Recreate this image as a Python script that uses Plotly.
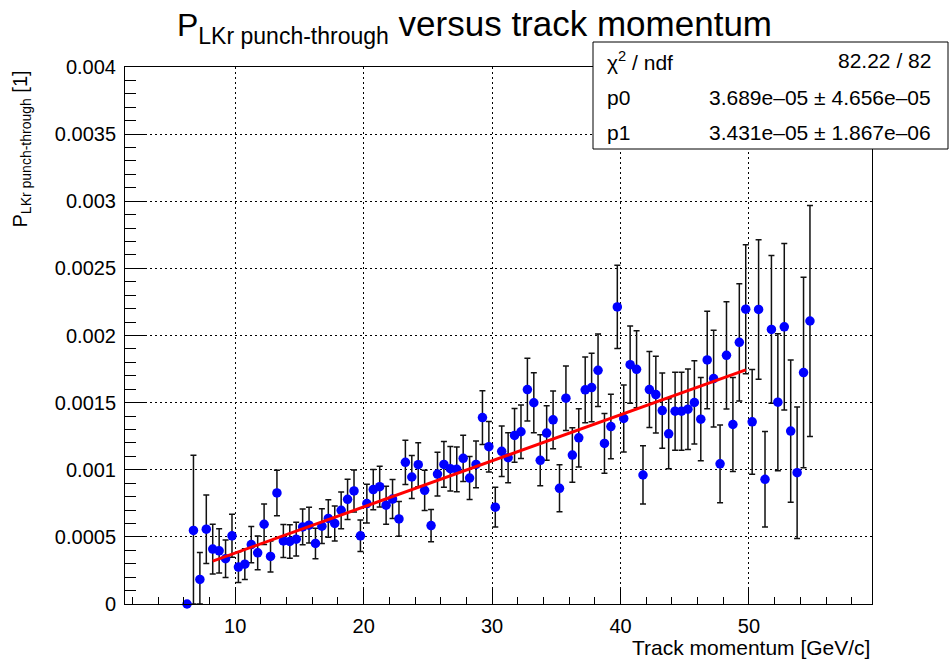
import plotly.graph_objects as go

# ---------------- data ----------------
momentum = [6.25, 6.75, 7.25, 7.75, 8.25, 8.75, 9.25, 9.75, 10.25, 10.75,
            11.25, 11.75, 12.25, 12.75, 13.25, 13.75, 14.25, 14.75, 15.25, 15.75,
            16.25, 16.75, 17.25, 17.75, 18.25, 18.75, 19.25, 19.75, 20.25, 20.75,
            21.25, 21.75, 22.25, 22.75, 23.25, 23.75, 24.25, 24.75, 25.25, 25.75,
            26.25, 26.75, 27.25, 27.75, 28.25, 28.75, 29.25, 29.75, 30.25, 30.75,
            31.25, 31.75, 32.25, 32.75, 33.25, 33.75, 34.25, 34.75, 35.25, 35.75,
            36.25, 36.75, 37.25, 37.75, 38.25, 38.75, 39.25, 39.75, 40.25, 40.75,
            41.25, 41.75, 42.25, 42.75, 43.25, 43.75, 44.25, 44.75, 45.25, 45.75,
            46.25, 46.75, 47.25, 47.75, 48.25, 48.75, 49.25, 49.75, 50.25, 50.75,
            51.25, 51.75, 52.25, 52.75, 53.25, 53.75, 54.25, 54.75]

p_punch = [0.0, 5.48e-4, 1.83e-4, 5.57e-4, 4.09e-4, 3.96e-4, 3.37e-4, 5.08e-4, 2.75e-4, 2.97e-4,
           4.43e-4, 3.81e-4, 5.94e-4, 3.54e-4, 8.27e-4, 4.70e-4, 4.66e-4, 4.83e-4, 5.74e-4, 5.87e-4,
           4.51e-4, 5.80e-4, 6.37e-4, 6.00e-4, 6.98e-4, 7.80e-4, 8.42e-4, 5.08e-4, 7.48e-4, 8.52e-4,
           8.74e-4, 7.36e-4, 7.82e-4, 6.34e-4, 1.055e-3, 9.46e-4, 1.038e-3, 8.47e-4, 5.84e-4, 9.68e-4,
           1.040e-3, 1.008e-3, 1.003e-3, 1.085e-3, 9.38e-4, 1.040e-3, 1.389e-3, 1.172e-3, 7.21e-4, 1.137e-3,
           1.090e-3, 1.256e-3, 1.283e-3, 1.597e-3, 1.499e-3, 1.070e-3, 1.273e-3, 1.372e-3, 8.62e-4, 1.533e-3,
           1.109e-3, 1.238e-3, 1.595e-3, 1.612e-3, 1.741e-3, 1.196e-3, 1.322e-3, 2.213e-3, 1.382e-3, 1.783e-3,
           1.748e-3, 9.61e-4, 1.597e-3, 1.560e-3, 1.441e-3, 1.268e-3, 1.436e-3, 1.436e-3, 1.451e-3, 1.501e-3,
           1.377e-3, 1.818e-3, 1.679e-3, 1.044e-3, 1.852e-3, 1.337e-3, 1.949e-3, 2.196e-3, 1.357e-3, 2.194e-3,
           9.29e-4, 2.045e-3, 1.503e-3, 2.065e-3, 1.288e-3, 9.78e-4, 1.724e-3, 2.108e-3]

p_err = [0.0, 5.6e-4, 2.0e-4, 2.55e-4, 1.85e-4, 1.65e-4, 1.4e-4, 1.6e-4, 1.15e-4, 1.15e-4,
         1.35e-4, 1.25e-4, 1.5e-4, 1.15e-4, 1.7e-4, 1.23e-4, 1.25e-4, 1.26e-4, 1.33e-4, 1.33e-4,
         1.14e-4, 1.3e-4, 1.4e-4, 1.3e-4, 1.37e-4, 1.5e-4, 1.56e-4, 1.17e-4, 1.44e-4, 1.5e-4,
         1.52e-4, 1.42e-4, 1.45e-4, 1.3e-4, 1.65e-4, 1.6e-4, 1.64e-4, 1.5e-4, 1.2e-4, 1.63e-4,
         1.7e-4, 1.66e-4, 1.66e-4, 1.72e-4, 1.6e-4, 1.75e-4, 2.0e-4, 1.88e-4, 1.48e-4, 1.88e-4,
         1.86e-4, 2.0e-4, 2.0e-4, 2.33e-4, 2.23e-4, 1.9e-4, 2.03e-4, 2.15e-4, 1.75e-4, 2.4e-4,
         2.03e-4, 2.17e-4, 2.44e-4, 2.55e-4, 2.7e-4, 2.23e-4, 2.4e-4, 3.1e-4, 2.5e-4, 2.88e-4,
         2.87e-4, 2.17e-4, 2.83e-4, 2.86e-4, 2.8e-4, 2.6e-4, 2.9e-4, 2.9e-4, 3.0e-4, 3.1e-4,
         3.1e-4, 3.63e-4, 3.6e-4, 2.9e-4, 4.0e-4, 3.5e-4, 4.37e-4, 4.8e-4, 3.9e-4, 5.2e-4,
         3.55e-4, 5.5e-4, 5.1e-4, 6.2e-4, 5.3e-4, 4.9e-4, 7.1e-4, 8.6e-4]

# linear fit result (from stats box)
fit_p0 = 3.689e-05
fit_p1 = 3.431e-05
fit_range = [8.25, 49.75]
stat_labels = ["\u03c7<sup>2</sup> / ndf", "p0", "p1"]
stat_values = ["82.22 / 82", "3.689e\u201305 \u00b1 4.656e\u201305", "3.431e\u201305 \u00b1 1.867e\u201306"]

y_tickvals = [0, 0.0005, 0.001, 0.0015, 0.002, 0.0025, 0.003, 0.0035, 0.004]
y_ticktext = ["0", "0.0005", "0.001", "0.0015", "0.002", "0.0025", "0.003", "0.0035", "0.004"]
x_tickvals = [10, 20, 30, 40, 50]
x_ticktext = ["10", "20", "30", "40", "50"]

# ---------------- figure ----------------
FONT = "Liberation Sans, Arial, Helvetica, sans-serif"
W, H = 949, 662
L, R, T, B = 125, 77, 67, 58
PW, PH = W - L - R, H - T - B


def px(xp):
    return (xp - L) / PW


def py(yp):
    return (H - B - yp) / PH


err_minus = [min(e, v) for e, v in zip(p_err, p_punch)]

fig = go.Figure()
fig.add_trace(go.Scatter(
    x=momentum, y=p_punch, mode="markers",
    marker=dict(color="#0000ff", size=9.5, line=dict(width=0)),
    error_y=dict(type="data", array=p_err, arrayminus=err_minus, symmetric=False,
                 color="#111111", thickness=1.5, width=3),
    cliponaxis=False, showlegend=False,
))
fit_y = [fit_p0 + fit_p1 * xv for xv in fit_range]
fig.add_trace(go.Scatter(
    x=fit_range, y=fit_y, mode="lines",
    line=dict(color="#ff0000", width=3), showlegend=False,
))

axis_common = dict(
    showline=True, linecolor="black", linewidth=1, mirror=True,
    ticks="inside", tickcolor="black", tickwidth=1,
    showgrid=True, gridcolor="black", griddash="2px,3px", gridwidth=1,
    zeroline=False, tickfont=dict(family=FONT, size=20, color="black"),
)

fig.update_layout(
    width=W, height=H,
    margin=dict(l=L, r=R, t=T, b=B, pad=0),
    paper_bgcolor="white", plot_bgcolor="white",
    font=dict(family=FONT, color="black"),
    title=dict(
        text="<span style='font-size:32px'>P</span><sub><span style='font-size:23px'>LKr punch-through</span></sub> versus track momentum",
        font=dict(family=FONT, size=35, color="black"),
        xref="container", x=0.5, xanchor="center",
        yref="container", y=1 - 24 / H, yanchor="middle",
    ),
    xaxis=dict(axis_common, range=[1.42, 59.58], tickmode="array",
               tickvals=x_tickvals, ticktext=x_ticktext, ticklen=15,
               ticklabelstandoff=4,
               minor=dict(ticks="inside", ticklen=7, dtick=2, tick0=0,
                          tickcolor="black", showgrid=False)),
    yaxis=dict(axis_common, range=[0, 0.004], tickmode="array",
               tickvals=y_tickvals, ticktext=y_ticktext, ticklen=22,
               ticklabelstandoff=4,
               minor=dict(ticks="inside", ticklen=11, dtick=0.0001, tick0=0,
                          tickcolor="black", showgrid=False)),
)

annotations = [
    dict(text="P<sub>LKr punch-through</sub> [1]", textangle=-90,
         xref="paper", yref="paper", x=px(21), y=py(68),
         xanchor="center", yanchor="top", showarrow=False,
         font=dict(family=FONT, size=20, color="black")),
    dict(text="Track momentum [GeV/c]",
         xref="paper", yref="paper", x=px(872), y=py(647),
         xanchor="right", yanchor="middle", showarrow=False,
         font=dict(family=FONT, size=21, color="black")),
]
row_y = [61, 97, 132]
for lab, val, ry in zip(stat_labels, stat_values, row_y):
    annotations.append(dict(text=lab, xref="paper", yref="paper", x=px(605), y=py(ry),
                            xanchor="left", yanchor="middle", showarrow=False,
                            font=dict(family=FONT, size=21, color="black")))
    annotations.append(dict(text=val, xref="paper", yref="paper", x=px(933), y=py(ry),
                            xanchor="right", yanchor="middle", showarrow=False,
                            font=dict(family=FONT, size=21, color="black")))
fig.update_layout(annotations=annotations)

fig.add_shape(type="rect", xref="paper", yref="paper",
              x0=px(593), x1=px(948), y0=py(149), y1=py(42),
              line=dict(color="black", width=1), fillcolor="white", layer="above")

fig.write_html("out.html", config={"displayModeBar": False},
               post_script="document.body.style.margin='0';document.body.style.padding='0';")
